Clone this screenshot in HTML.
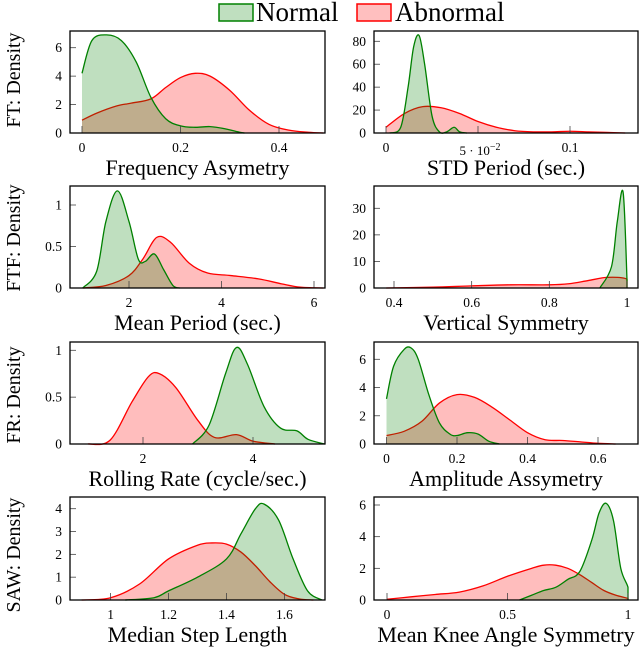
<!DOCTYPE html>
<html><head><meta charset="utf-8"><style>
body{margin:0;background:#fff;}
svg{display:block;font-family:"Liberation Serif",serif;}
</style></head><body>
<svg id="fig" width="640" height="648" viewBox="0 0 640 648" xmlns="http://www.w3.org/2000/svg">
<g>
<rect x="219" y="4" width="34" height="17" fill="rgba(0,128,0,0.25)" stroke="#008000" stroke-width="1.5"/>
<text x="256" y="21" font-size="27">Normal</text>
<rect x="357" y="4" width="34" height="17" fill="rgba(255,0,0,0.25)" stroke="#ff0000" stroke-width="1.5"/>
<text x="395" y="21" font-size="27">Abnormal</text>
</g>
<text transform="translate(20,80) rotate(-90)" text-anchor="middle" font-size="20">FT: Density</text>
<text transform="translate(20,238) rotate(-90)" text-anchor="middle" font-size="20">FTF: Density</text>
<text transform="translate(20,395) rotate(-90)" text-anchor="middle" font-size="20">FR: Density</text>
<text transform="translate(20,555) rotate(-90)" text-anchor="middle" font-size="20">SAW: Density</text>
<text x="480" y="155" text-anchor="middle" font-size="13">5 · 10<tspan dy="-5" font-size="10">−2</tspan></text>
</svg>
<script>
// Panel 1: Frequency Asymetry
const p1NormX=[0,0.02,0.05,0.08,0.11,0.14,0.17,0.2,0.23,0.26,0.29,0.32,0.33];
const p1NormY=[4.2,6.5,6.9,6.5,5.0,2.5,1.0,0.5,0.4,0.45,0.3,0.05,0];
const p1AbnX=[0,0.03,0.07,0.1,0.14,0.17,0.2,0.23,0.26,0.3,0.34,0.38,0.42,0.46,0.49];
const p1AbnY=[0.9,1.4,1.9,2.1,2.4,3.2,3.9,4.2,4.0,3.0,1.6,0.6,0.2,0.05,0];
const p1XTicks=[0,0.2,0.4]; const p1YTicks=[0,2,4,6];
// Panel 2: STD Period
const p2NormX=[0.002,0.008,0.012,0.015,0.018,0.021,0.025,0.029,0.033,0.037,0.04,0.044];
const p2NormY=[0,5,40,75,85,60,15,1,1,5,1,0];
const p2AbnX=[0,0.01,0.02,0.03,0.04,0.05,0.06,0.07,0.08,0.09,0.1,0.11,0.12,0.13];
const p2AbnY=[5,17,23,22,17,10,5,2,1,1,1.5,1,0.5,0];
const p2XTicks=[0,0.05,0.1]; const p2XLabels=["0","","0.1"]; const p2YTicks=[0,20,40,60,80];
// Panel 3: Mean Period
const p3NormX=[1,1.3,1.5,1.75,2.0,2.2,2.35,2.55,2.75,2.95,3.1];
const p3NormY=[0,0.2,0.8,1.17,0.8,0.35,0.32,0.41,0.22,0.03,0];
const p3AbnX=[1,1.5,2,2.3,2.6,2.9,3.3,3.7,4.2,4.8,5.3,5.7,6.2];
const p3AbnY=[0,0.03,0.15,0.35,0.61,0.55,0.3,0.18,0.15,0.11,0.05,0.01,0];
const p3XTicks=[2,4,6]; const p3YTicks=[0,0.5,1];
// Panel 4: Vertical Symmetry
const p4NormX=[0.93,0.96,0.975,0.99,1.0,1.0];
const p4NormY=[0,8,25,36,3,0];
const p4AbnX=[0.38,0.5,0.6,0.7,0.8,0.85,0.9,0.95,1.0,1.0];
const p4AbnY=[0,0.3,0.8,1.2,1.2,1.6,2.8,4.0,3.3,0];
const p4XTicks=[0.4,0.6,0.8,1]; const p4YTicks=[0,10,20,30];
// Panel 5: Rolling Rate
const p5NormX=[2.9,3.2,3.5,3.7,3.9,4.2,4.5,4.8,5.0,5.3];
const p5NormY=[0,0.2,0.75,1.03,0.85,0.4,0.17,0.14,0.05,0];
const p5AbnX=[1.0,1.4,1.8,2.1,2.3,2.6,3.0,3.3,3.7,4.0,4.4];
const p5AbnY=[0,0.04,0.45,0.72,0.75,0.6,0.25,0.07,0.1,0.03,0];
const p5XTicks=[2,4]; const p5YTicks=[0,0.5,1];
// Panel 6: Amplitude Assymetry
const p6NormX=[0,0.02,0.05,0.07,0.09,0.12,0.15,0.18,0.2,0.23,0.26,0.29,0.32];
const p6NormY=[3.2,5.5,6.7,6.8,6.0,3.5,1.5,0.7,0.6,0.8,0.7,0.2,0];
const p6AbnX=[0,0.05,0.1,0.15,0.2,0.25,0.3,0.35,0.4,0.45,0.5,0.55,0.6,0.65];
const p6AbnY=[0.6,0.9,1.6,2.9,3.5,3.3,2.6,1.7,0.8,0.3,0.25,0.15,0.05,0];
const p6XTicks=[0,0.2,0.4,0.6]; const p6YTicks=[0,2,4,6];
// Panel 7: Median Step Length
const p7NormX=[1.05,1.15,1.2,1.3,1.4,1.45,1.5,1.53,1.58,1.63,1.68,1.73];
const p7NormY=[0,0.1,0.4,1.0,1.8,2.9,4.0,4.2,3.5,1.8,0.4,0];
const p7AbnX=[0.9,1.0,1.1,1.2,1.3,1.35,1.4,1.45,1.5,1.55,1.6,1.65,1.7];
const p7AbnY=[0,0.1,0.7,1.8,2.4,2.5,2.45,2.1,1.5,0.8,0.25,0.05,0];
const p7XTicks=[1,1.2,1.4,1.6]; const p7YTicks=[0,1,2,3,4];
// Panel 8: Mean Knee Angle Symmetry
const p8NormX=[0.55,0.6,0.65,0.7,0.75,0.8,0.85,0.88,0.91,0.94,0.97,1.0,1.0];
const p8NormY=[0,0.3,0.6,0.8,1.3,1.8,3.8,5.5,6.1,5.0,2.0,0.8,0];
const p8AbnX=[0,0.1,0.2,0.3,0.4,0.5,0.6,0.65,0.7,0.75,0.8,0.85,0.9,0.95,1.0,1.0];
const p8AbnY=[0.05,0.2,0.35,0.5,0.9,1.5,2.0,2.2,2.2,2.0,1.6,1.1,0.6,0.3,0.1,0];
const p8XTicks=[0,0.5,1]; const p8YTicks=[0,2,4,6];

const NS="http://www.w3.org/2000/svg";
const svg=document.getElementById('fig');
function mk(tag,attrs,parent){const e=document.createElementNS(NS,tag);for(const k in attrs)e.setAttribute(k,attrs[k]);(parent||svg).appendChild(e);return e;}
function lin(d0,d1,r0,r1){return v=>r0+(v-d0)/(d1-d0)*(r1-r0);}
function smoothPath(pts){
  let d='M'+pts[0][0].toFixed(2)+','+pts[0][1].toFixed(2);
  for(let i=0;i<pts.length-1;i++){
    const p0=pts[Math.max(i-1,0)],p1=pts[i],p2=pts[i+1],p3=pts[Math.min(i+2,pts.length-1)];
    if(p1[0]===p2[0]){d+=' L'+p2[0].toFixed(2)+','+p2[1].toFixed(2);continue;}
    const c1=[p1[0]+(p2[0]-p0[0])/6,p1[1]+(p2[1]-p0[1])/6];
    const c2=[p2[0]-(p3[0]-p1[0])/6,p2[1]-(p3[1]-p1[1])/6];
    d+=' C'+c1[0].toFixed(2)+','+c1[1].toFixed(2)+' '+c2[0].toFixed(2)+','+c2[1].toFixed(2)+' '+p2[0].toFixed(2)+','+p2[1].toFixed(2);
  }
  return d;
}
const panels=[
 {name:'frequency-asymetry',title:'Frequency Asymetry',box:[70,31,325,133],xd:[0,0.4],xr:[82,279],yd:[0,6],yr:[133,47.7],nx:p1NormX,ny:p1NormY,ax:p1AbnX,ay:p1AbnY,xt:p1XTicks,yt:p1YTicks},
 {name:'std-period',title:'STD Period (sec.)',box:[374,31,638,133],xd:[0,0.1],xr:[386,570],yd:[0,80],yr:[133,41.3],nx:p2NormX,ny:p2NormY,ax:p2AbnX,ay:p2AbnY,xt:p2XTicks,xl:p2XLabels,yt:p2YTicks},
 {name:'mean-period',title:'Mean Period (sec.)',box:[70,186,325,288],xd:[2,6],xr:[129,314],yd:[0,1],yr:[288,205],nx:p3NormX,ny:p3NormY,ax:p3AbnX,ay:p3AbnY,xt:p3XTicks,yt:p3YTicks},
 {name:'vertical-symmetry',title:'Vertical Symmetry',box:[374,186,638,288],xd:[0.4,1],xr:[394,627],yd:[0,30],yr:[288,208.3],nx:p4NormX,ny:p4NormY,ax:p4AbnX,ay:p4AbnY,xt:p4XTicks,yt:p4YTicks},
 {name:'rolling-rate',title:'Rolling Rate (cycle/sec.)',box:[70,342,325,444],xd:[2,4],xr:[143,253],yd:[0,1],yr:[444,350.3],nx:p5NormX,ny:p5NormY,ax:p5AbnX,ay:p5AbnY,xt:p5XTicks,yt:p5YTicks},
 {name:'amplitude-assymetry',title:'Amplitude Assymetry',box:[374,342,638,444],xd:[0,0.6],xr:[386.5,598],yd:[0,6],yr:[444,359.3],nx:p6NormX,ny:p6NormY,ax:p6AbnX,ay:p6AbnY,xt:p6XTicks,yt:p6YTicks},
 {name:'median-step-length',title:'Median Step Length',box:[70,497,325,600],xd:[1,1.6],xr:[110.6,284.4],yd:[0,4],yr:[600,508.7],nx:p7NormX,ny:p7NormY,ax:p7AbnX,ay:p7AbnY,xt:p7XTicks,yt:p7YTicks},
 {name:'mean-knee-angle-symmetry',title:'Mean Knee Angle Symmetry',box:[374,497,638,600],xd:[0,1],xr:[387,628],yd:[0,6],yr:[600,505],nx:p8NormX,ny:p8NormY,ax:p8AbnX,ay:p8AbnY,xt:p8XTicks,yt:p8YTicks}
];
panels.forEach(p=>{
  const g=mk('g',{});
  
  
  const X=lin(p.xd[0],p.xd[1],p.xr[0],p.xr[1]);
  const Y=lin(p.yd[0],p.yd[1],p.yr[0],p.yr[1]);
  const [l,t,r,b]=p.box;
  const base=Y(0);
  [['abnormal',p.ax,p.ay,'rgba(255,0,0,0.26)','#ff0000'],['normal',p.nx,p.ny,'rgba(0,128,0,0.25)','#008000']].forEach(s=>{
    const pts=s[1].map((v,i)=>[X(v),Y(s[2][i])]);
    const line=smoothPath(pts);
    const area=mk('path',{d:line+' L'+pts[pts.length-1][0].toFixed(2)+','+base+' L'+pts[0][0].toFixed(2)+','+base+' Z',fill:s[3],stroke:'none'},g);
    
    
    const ln=mk('path',{d:line,fill:'none',stroke:s[4],'stroke-width':1.3},g);
    
    
  });
  p.xt.forEach((v,i)=>{
    const x=X(v);
    const tk=mk('line',{x1:x,x2:x,y1:b,y2:b-7,stroke:'#444','stroke-width':0.8},g);
    
    
    const lab=p.xl?p.xl[i]:String(v);
    const tx=mk('text',{x:x,y:b+19,'text-anchor':'middle','font-size':13.5},g);
    tx.textContent=lab;
    
    
  });
  p.yt.forEach(v=>{
    const y=Y(v);
    const tk=mk('line',{x1:l,x2:l+6,y1:y,y2:y,stroke:'#444','stroke-width':0.8},g);
    
    
    const tx=mk('text',{x:l-8,y:y+4.5,'text-anchor':'end','font-size':13.5},g);
    tx.textContent=String(v);
    
    
  });
  const fr=mk('rect',{x:l,y:t,width:r-l,height:b-t,fill:'none',stroke:'#000','stroke-width':1.3},g);
  
  
  const ttl=mk('text',{x:(l+r)/2,y:b+42,'text-anchor':'middle','font-size':22},g);
  ttl.textContent=p.title;
  
  
});
</script>
</body></html>
